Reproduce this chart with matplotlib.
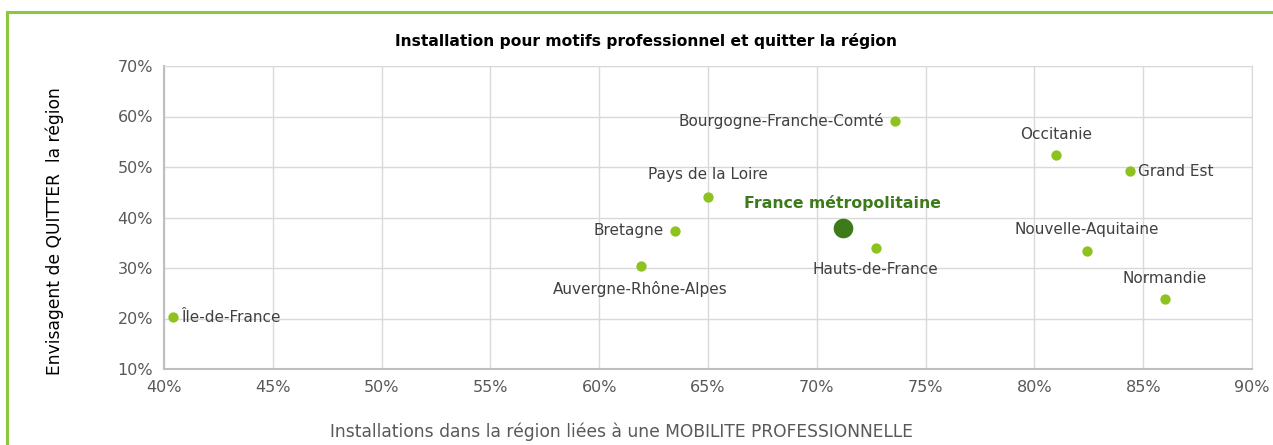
import matplotlib.pyplot as plt
from matplotlib.patches import Rectangle
from matplotlib.ticker import PercentFormatter

regions = ['Île-de-France', 'Auvergne-Rhône-Alpes', 'Bretagne', 'Pays de la Loire',
           'Hauts-de-France', 'Bourgogne-Franche-Comté', 'Occitanie',
           'Nouvelle-Aquitaine', 'Grand Est', 'Normandie']
mobilite_pro = [40.4, 61.9, 63.5, 65.0, 72.7, 73.6, 81.0, 82.4, 84.4, 86.0]
quitter = [20.2, 30.4, 37.4, 44.1, 34.0, 59.1, 52.4, 33.4, 49.2, 23.9]

france_x = 71.2
france_y = 37.9

# label placement: (dx, dy) in points, ha, va
placement = {
    'Île-de-France': (6, 0, 'left', 'center'),
    'Auvergne-Rhône-Alpes': (0, -11, 'center', 'top'),
    'Bretagne': (-8, 0, 'right', 'center'),
    'Pays de la Loire': (0, 11, 'center', 'bottom'),
    'Hauts-de-France': (0, -10, 'center', 'top'),
    'Bourgogne-Franche-Comté': (-8, 0, 'right', 'center'),
    'Occitanie': (0, 9, 'center', 'bottom'),
    'Nouvelle-Aquitaine': (0, 10, 'center', 'bottom'),
    'Grand Est': (6, 0, 'left', 'center'),
    'Normandie': (0, 9, 'center', 'bottom'),
}

light = '#8DC21F'
dark = '#3D7A1A'
txt = '#404040'
plt.rcParams['font.family'] = 'DejaVu Sans'

fig = plt.figure(figsize=(12.73, 4.45), dpi=100)
fig.patches.append(Rectangle((6.5 / 1273, -0.1), 1.2, 1.1 - 11.5 / 445,
                             transform=fig.transFigure, fill=False,
                             edgecolor='#8DC63F', linewidth=2.2))

ax = fig.add_axes([164 / 1273, 1 - 369 / 445, 1088 / 1273, 303 / 445])
ax.scatter(mobilite_pro, quitter, s=55, color=light, zorder=3, linewidths=0)
ax.scatter([france_x], [france_y], s=200, color=dark, zorder=3, linewidths=0)

for name, x, y in zip(regions, mobilite_pro, quitter):
    dx, dy, ha, va = placement[name]
    ax.annotate(name, (x, y), xytext=(dx, dy), textcoords='offset points',
                ha=ha, va=va, fontsize=11, color=txt)
ax.annotate('France métropolitaine', (france_x, france_y), xytext=(0, 12),
            textcoords='offset points', ha='center', va='bottom',
            fontsize=11.3, fontweight='bold', color=dark)

ax.set_xlim(40, 90)
ax.set_ylim(10, 70)
ax.set_xticks(range(40, 91, 5))
ax.set_yticks(range(10, 71, 10))
ax.xaxis.set_major_formatter(PercentFormatter(decimals=0))
ax.yaxis.set_major_formatter(PercentFormatter(decimals=0))
ax.grid(True, color='#D9D9D9', linewidth=1)
ax.set_axisbelow(True)
ax.tick_params(length=0, labelsize=11.5, labelcolor='#595959', pad=8)
for s in ['top', 'right']:
    ax.spines[s].set_color('#D9D9D9')
for s in ['left', 'bottom']:
    ax.spines[s].set_color('#BFBFBF')
    ax.spines[s].set_linewidth(1.5)

fig.text(646 / 1273, 1 - 41 / 445, 'Installation pour motifs professionnel et quitter la région',
         ha='center', va='center', fontsize=11.2, fontweight='bold', color='black')
fig.text(55 / 1273, 1 - 231 / 445, 'Envisagent de QUITTER  la région', rotation=90,
         ha='center', va='center', fontsize=12.3, color='black')
fig.text(621 / 1273, 1 - 432 / 445,
         'Installations dans la région liées à une MOBILITE PROFESSIONNELLE',
         ha='center', va='center', fontsize=12.3, color='#595959')

fig.savefig('out.png', dpi=100)
